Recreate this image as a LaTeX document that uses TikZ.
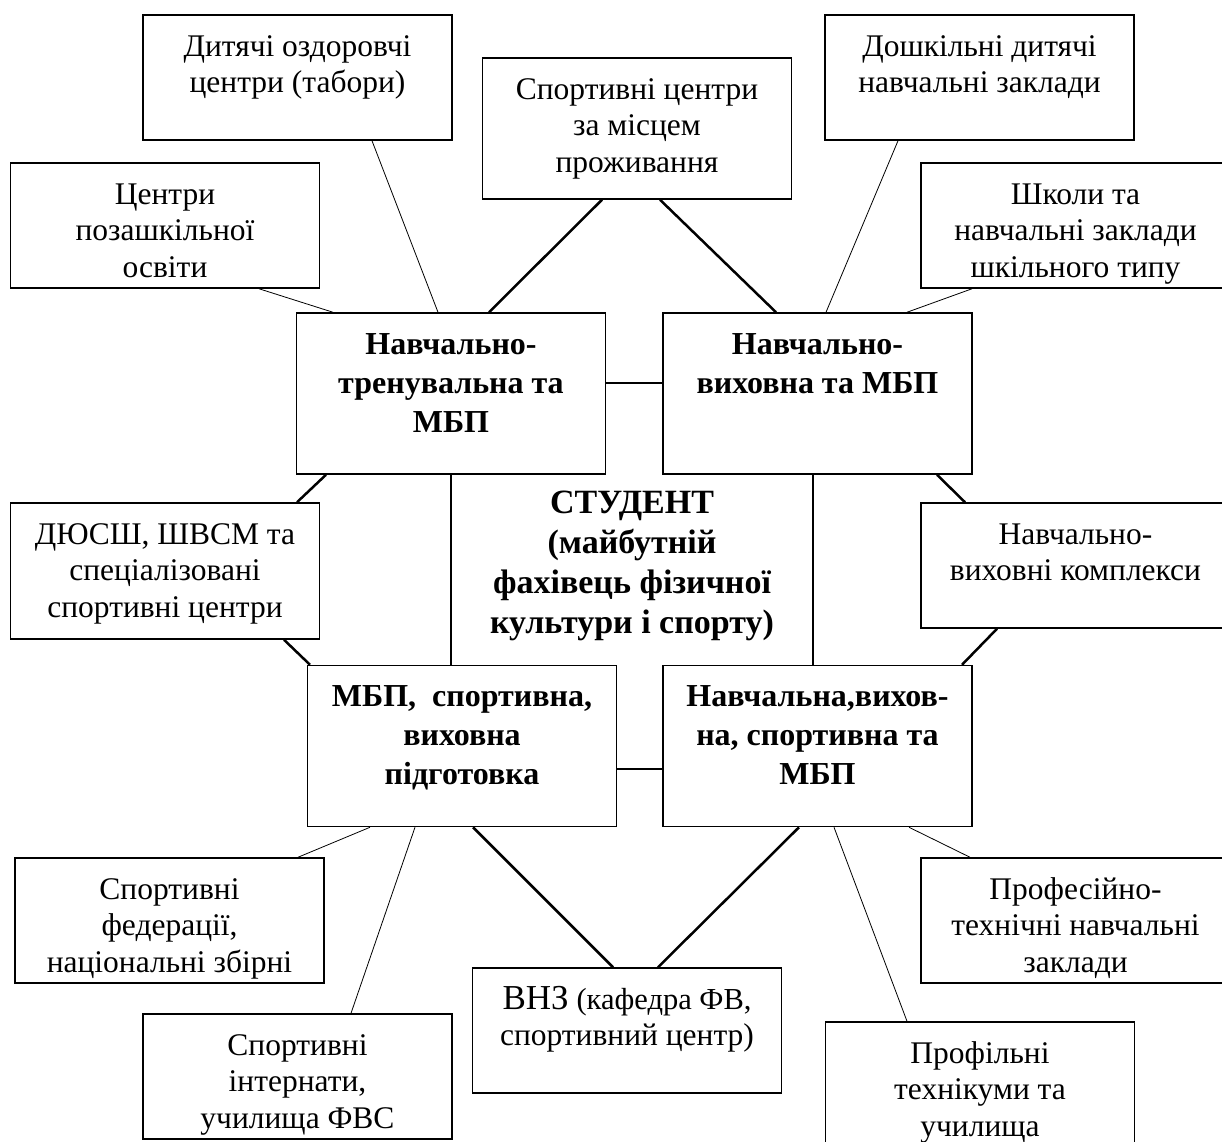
\documentclass[tikz,border=0pt]{standalone}
\usepackage{fontspec}
\setmainfont{Liberation Serif}

% text of a box: top aligned, first baseline 41pt under the frame
\newcommand{\btxt}[2]{\parbox[c][#1pt][t]{300pt}{\centering\rule{0pt}{41pt}#2}}

\tikzset{
  outerbox/.style={draw, line width=1.5pt, inner sep=0pt, minimum width=309pt,
    font=\fontsize{31.5}{36.5}\selectfont},
  mainbox/.style={outerbox, font=\bfseries\fontsize{32}{39}\selectfont},
  thinline/.style={line width=0.8pt},
  thickline/.style={line width=2.5pt},
}

\begin{document}
\begin{tikzpicture}[x=1pt, y=-1pt]
\useasboundingbox (0,0) rectangle (1222,1141);
\clip (0,0) rectangle (1222,1141);

% outer boxes
\node[outerbox] (camps) at (297.5,77.5) {\btxt{125}{Дитячі оздоровчі\\центри (табори)}};
\node[outerbox] (sportres) at (637,128.5) {\btxt{141}{Спортивні центри\\за місцем\\проживання}};
\node[outerbox] (preschool) at (979.5,77.5) {\btxt{125}{Дошкільні дитячі\\навчальні заклади}};
\node[outerbox] (extracur) at (165,225.5) {\btxt{125}{Центри\\позашкільної\\освіти}};
\node[outerbox] (schools) at (1075.5,225.5) {\btxt{125}{Школи та\\навчальні заклади\\шкільного типу}};
\node[outerbox] (dyussh) at (165,571) {\btxt{136}{ДЮСШ, ШВСМ та\\спеціалізовані\\спортивні центри}};
\node[outerbox] (complexes) at (1075.5,565.5) {\btxt{125}{Навчально-\\виховні комплекси}};
\node[outerbox] (feds) at (169.5,920.5) {\btxt{125}{Спортивні\\федерації,\\національні збірні}};
\node[outerbox] (proftech) at (1075.5,920.5) {\btxt{125}{Професійно-\\технічні навчальні\\заклади}};
\node[outerbox] (vnz) at (627,1030.5) {\btxt{125}{{\fontsize{35}{36.5}\selectfont ВНЗ} {\fontsize{30.5}{36.5}\selectfont (кафедра ФВ,}\\спортивний центр)}};
\node[outerbox] (internat) at (297.5,1076.5) {\btxt{125}{Спортивні\\інтернати,\\училища ФВС}};
\node[outerbox] (techn) at (980,1084.5) {\btxt{125}{Профільні\\технікуми та\\училища}};

% main boxes
\node[mainbox] (train) at (451,393.5) {\btxt{161}{Навчально-\\тренувальна та\\МБП}};
\node[mainbox] (educ) at (817.5,393.5) {\btxt{161}{Навчально-\\виховна та МБП}};
\node[mainbox] (sportprep) at (462,746) {\btxt{161}{МБП,~ спортивна,\\виховна\\підготовка}};
\node[mainbox] (mixed) at (817.5,746) {\btxt{161}{Навчальна,вихов-\\на, спортивна та\\МБП}};

% centre
\node[inner sep=0pt, font=\bfseries\fontsize{34}{40}\selectfont] (student) at (632,567)
  {\btxt{190}{СТУДЕНТ\\(майбутній\\фахівець фізичної\\культури і спорту)}};

% links between the main boxes
\draw[thickline] ([yshift=10.5pt]train.east) -- ([yshift=10.5pt]educ.west);
\draw[thickline] ([yshift=-23pt]sportprep.east) -- ([yshift=-23pt]mixed.west);
\draw[line width=1.5pt] (train.south) -- (train.south |- sportprep.north);
\draw[line width=1.5pt] ([xshift=-4.5pt]educ.south) -- ([xshift=-4.5pt]educ.south |- mixed.north);

% thick links
\draw[thickline] ([xshift=-35pt]sportres.south) -- ([xshift=38pt]train.north);
\draw[thickline] ([xshift=23pt]sportres.south) -- ([xshift=-41.5pt]educ.north);
\draw[thickline] ([xshift=-125pt]train.south) -- ([xshift=132pt]dyussh.north);
\draw[thickline] ([xshift=119pt]dyussh.south) -- ([xshift=-152pt]sportprep.north);
\draw[thickline] ([xshift=119.5pt]educ.south) -- ([xshift=-110.5pt]complexes.north);
\draw[thickline] ([xshift=-78.5pt]complexes.south) -- ([xshift=144.5pt]mixed.north);
\draw[thickline] ([xshift=11pt]sportprep.south) -- ([xshift=-14pt]vnz.north);
\draw[thickline] ([xshift=-18.5pt]mixed.south) -- ([xshift=31pt]vnz.north);

% thin links
\draw[thinline] ([xshift=74.5pt]camps.south) -- ([xshift=-13pt]train.north);
\draw[thinline] ([xshift=94pt]extracur.south) -- ([xshift=-118pt]train.north);
\draw[thinline] ([xshift=-81.5pt]preschool.south) -- ([xshift=8.5pt]educ.north);
\draw[thinline] ([xshift=-103.5pt]schools.south) -- ([xshift=89.5pt]educ.north);
\draw[thinline] ([xshift=-92pt]sportprep.south) -- ([xshift=128.5pt]feds.north);
\draw[thinline] ([xshift=-47pt]sportprep.south) -- ([xshift=53.5pt]internat.north);
\draw[thinline] ([xshift=91.5pt]mixed.south) -- ([xshift=-105.5pt]proftech.north);
\draw[thinline] ([xshift=16.5pt]mixed.south) -- ([xshift=-73pt]techn.north);
\end{tikzpicture}
\end{document}
